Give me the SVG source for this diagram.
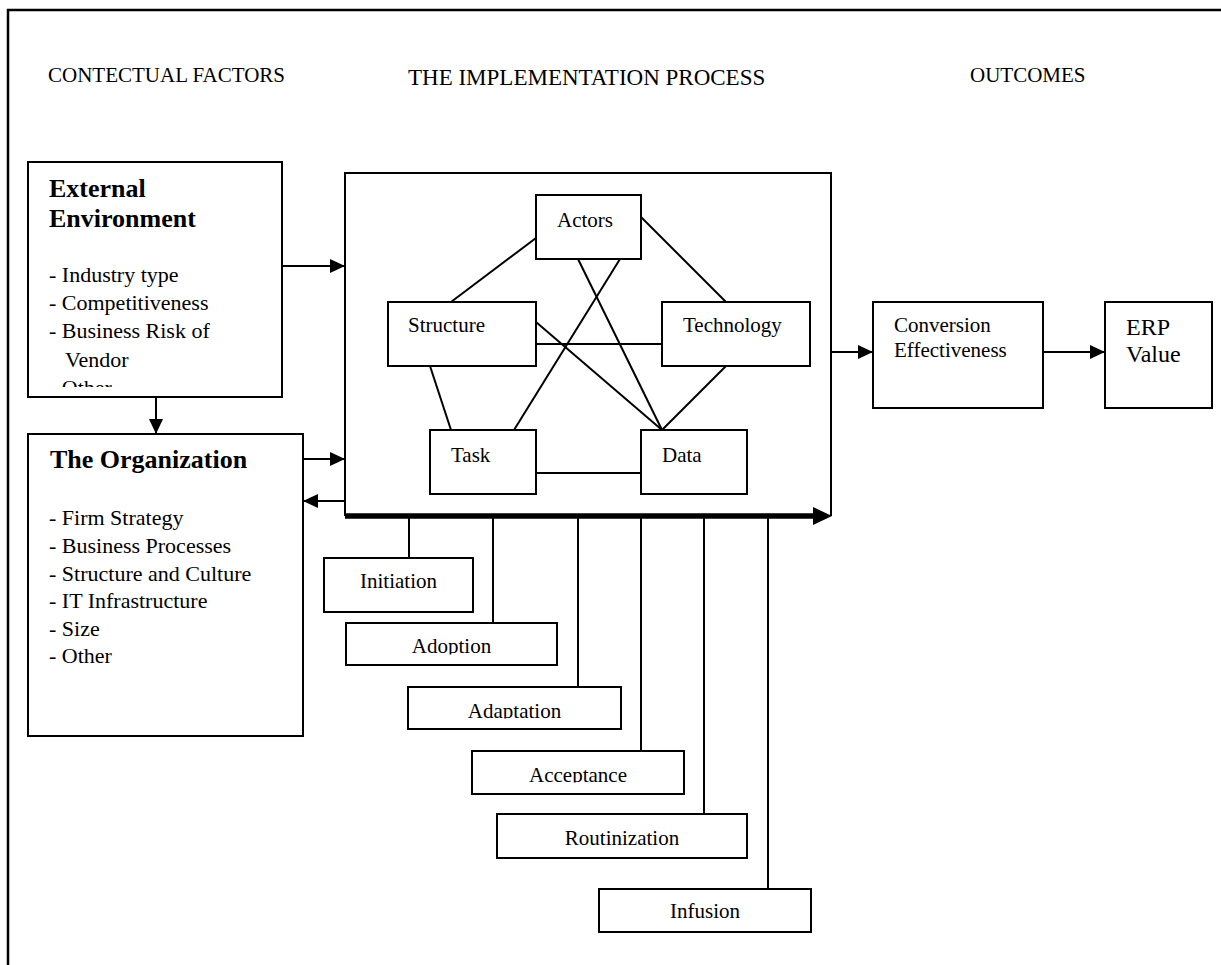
<svg xmlns="http://www.w3.org/2000/svg" width="1221" height="965" viewBox="0 0 1221 965">
  <style>
    .box { fill: #fff; stroke: #000; stroke-width: 2; }
    .ln { stroke: #000; stroke-width: 2; fill: none; }
    .arr { stroke: #000; stroke-width: 2; fill: none; marker-end: url(#head); }
    text { font-family: "Liberation Serif", "Times New Roman", serif; fill: #000; }
    .hd { font-size: 21px; }
    .ttl { font-size: 26px; font-weight: bold; }
    .item { font-size: 22px; }
    .lbl { font-size: 21px; }
    .mid { text-anchor: middle; }
  </style>
  <defs>
    <marker id="head" markerUnits="userSpaceOnUse" markerWidth="15" markerHeight="14" refX="15" refY="7" orient="auto">
      <path d="M0,0 L15,7 L0,14 z" fill="#000"/>
    </marker>
    <clipPath id="clipExt"><rect x="28" y="162" width="254" height="225"/></clipPath>
    <clipPath id="clipAdoption"><rect x="346" y="623" width="211" height="31.5"/></clipPath>
    <clipPath id="clipAdaptation"><rect x="408" y="687" width="213" height="31.5"/></clipPath>
    <clipPath id="clipAcceptance"><rect x="472" y="751" width="212" height="31.5"/></clipPath>
  </defs>

  <!-- outer frame -->
  <rect x="8" y="10" width="1225" height="970" fill="none" stroke="#000" stroke-width="2.5"/>

  <!-- column headings -->
  <text class="hd" x="48" y="82">CONTECTUAL FACTORS</text>
  <text x="408" y="85" font-size="23">THE IMPLEMENTATION PROCESS</text>
  <text class="hd" x="970" y="82">OUTCOMES</text>

  <!-- connectors -->
  <g id="connectors">
    <line class="arr" x1="282" y1="266" x2="345" y2="266"/>
    <line class="arr" x1="156" y1="397" x2="156" y2="434"/>
    <line class="arr" x1="303" y1="459" x2="345" y2="459"/>
    <line class="arr" x1="345" y1="501" x2="303" y2="501"/>
    <line class="arr" x1="831" y1="352" x2="873" y2="352"/>
    <line class="arr" x1="1043" y1="352" x2="1105" y2="352"/>

    <!-- links between the socio-technical elements -->
    <line class="ln" x1="536" y1="238" x2="451" y2="302"/>
    <line class="ln" x1="641" y1="217" x2="726" y2="302"/>
    <line class="ln" x1="578" y1="259" x2="662" y2="430"/>
    <line class="ln" x1="620" y1="259" x2="514" y2="430"/>
    <line class="ln" x1="536" y1="322" x2="662" y2="430"/>
    <line class="ln" x1="536" y1="344" x2="662" y2="344"/>
    <line class="ln" x1="726" y1="366" x2="662" y2="430"/>
    <line class="ln" x1="430" y1="366" x2="451" y2="430"/>
    <line class="ln" x1="536" y1="473" x2="641" y2="473"/>

    <!-- stage drop lines -->
    <line class="ln" x1="409" y1="516" x2="409" y2="558"/>
    <line class="ln" x1="493" y1="516" x2="493" y2="623"/>
    <line class="ln" x1="578" y1="516" x2="578" y2="687"/>
    <line class="ln" x1="641" y1="516" x2="641" y2="751"/>
    <line class="ln" x1="704" y1="516" x2="704" y2="814"/>
    <line class="ln" x1="768" y1="516" x2="768" y2="889"/>
  </g>

  <!-- contextual factors -->
  <g id="external">
    <rect class="box" x="28" y="162" width="254" height="235"/>
    <text class="ttl" x="49" y="197">External</text>
    <text class="ttl" x="49" y="227">Environment</text>
    <g clip-path="url(#clipExt)">
      <text class="item" x="49" y="282">- Industry type</text>
      <text class="item" x="49" y="310">- Competitiveness</text>
      <text class="item" x="49" y="338">- Business Risk of</text>
      <text class="item" x="65" y="367">Vendor</text>
      <text class="item" x="49" y="395">- Other</text>
    </g>
  </g>

  <g id="organization">
    <rect class="box" x="28" y="434" width="275" height="302"/>
    <text class="ttl" x="50" y="468" font-size="25">The Organization</text>
    <text class="item" x="49" y="525">- Firm Strategy</text>
    <text class="item" x="49" y="553">- Business Processes</text>
    <text class="item" x="49" y="581">- Structure and Culture</text>
    <text class="item" x="49" y="608">- IT Infrastructure</text>
    <text class="item" x="49" y="636">- Size</text>
    <text class="item" x="49" y="663">- Other</text>
  </g>

  <!-- implementation process -->
  <g id="process">
    <path class="ln" d="M345,516 V173 H831 V516"/>
    <line x1="345" y1="516" x2="814" y2="516" stroke="#000" stroke-width="5.5"/>
    <path d="M813,507 L832,516 L813,525 z" fill="#000"/>
  </g>

  <g id="actors">
    <rect class="box" x="536" y="195" width="105" height="64"/>
    <text class="lbl" x="557" y="227">Actors</text>
  </g>
  <g id="structure">
    <rect class="box" x="388" y="302" width="148" height="64"/>
    <text class="lbl" x="408" y="332">Structure</text>
  </g>
  <g id="technology">
    <rect class="box" x="662" y="302" width="148" height="64"/>
    <text class="lbl" x="683" y="332">Technology</text>
  </g>
  <g id="task">
    <rect class="box" x="430" y="430" width="106" height="64"/>
    <text class="lbl" x="451" y="462">Task</text>
  </g>
  <g id="data">
    <rect class="box" x="641" y="430" width="106" height="64"/>
    <text class="lbl" x="662" y="462">Data</text>
  </g>

  <!-- implementation stages -->
  <g id="initiation">
    <rect class="box" x="324" y="558" width="149" height="54"/>
    <text class="lbl mid" x="398.5" y="588">Initiation</text>
  </g>
  <g id="adoption">
    <rect class="box" x="346" y="623" width="211" height="42"/>
    <text class="lbl mid" x="451.5" y="653" clip-path="url(#clipAdoption)">Adoption</text>
  </g>
  <g id="adaptation">
    <rect class="box" x="408" y="687" width="213" height="42"/>
    <text class="lbl mid" x="514.5" y="718" clip-path="url(#clipAdaptation)">Adaptation</text>
  </g>
  <g id="acceptance">
    <rect class="box" x="472" y="751" width="212" height="43"/>
    <text class="lbl mid" x="578" y="782" clip-path="url(#clipAcceptance)">Acceptance</text>
  </g>
  <g id="routinization">
    <rect class="box" x="497" y="814" width="250" height="44"/>
    <text class="lbl mid" x="622" y="845">Routinization</text>
  </g>
  <g id="infusion">
    <rect class="box" x="599" y="889" width="212" height="43"/>
    <text class="lbl mid" x="705" y="918">Infusion</text>
  </g>

  <!-- outcomes -->
  <g id="conversion">
    <rect class="box" x="873" y="302" width="170" height="106"/>
    <text class="lbl" x="894" y="332">Conversion</text>
    <text class="lbl" x="894" y="357">Effectiveness</text>
  </g>
  <g id="erp-value">
    <rect class="box" x="1105" y="302" width="107" height="106"/>
    <text x="1126" y="335" font-size="24">ERP</text>
    <text x="1126" y="362" font-size="24">Value</text>
  </g>
</svg>
